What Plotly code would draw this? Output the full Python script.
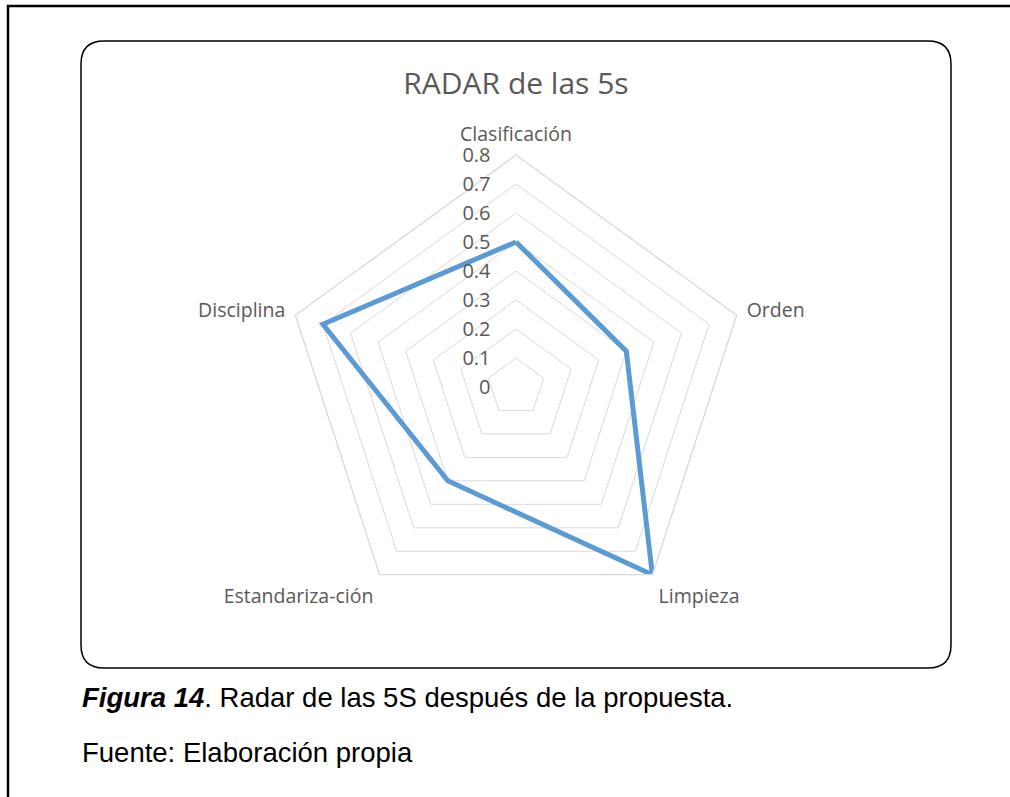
import plotly.graph_objects as go

# datos del radar
categorias = ["Clasificación", "Orden", "Limpieza", "Estandariza-ción", "Disciplina"]
valores = [0.5, 0.4, 0.8, 0.4, 0.7]

W, H = 1010, 797
GRIS = "#595959"
FUENTE = "Open Sans"


def px(x, y):
    return f"{x / W:.5f},{1 - y / H:.5f}"


def rounded_rect(x0, y0, x1, y1, r):
    # camino de rectángulo redondeado en coordenadas de papel
    return (
        f"M {px(x0 + r, y0)} L {px(x1 - r, y0)} Q {px(x1, y0)} {px(x1, y0 + r)} "
        f"L {px(x1, y1 - r)} Q {px(x1, y1)} {px(x1 - r, y1)} "
        f"L {px(x0 + r, y1)} Q {px(x0, y1)} {px(x0, y1 - r)} "
        f"L {px(x0, y0 + r)} Q {px(x0, y0)} {px(x0 + r, y0)} Z"
    )


cx, cy, R = 516, 387, 232

fig = go.Figure()
fig.add_trace(go.Scatterpolar(
    r=valores + valores[:1],
    theta=categorias + categorias[:1],
    mode="lines",
    line=dict(color="#5b9bd5", width=5),
    showlegend=False,
    hoverinfo="skip",
))

fig.update_layout(
    width=W, height=H,
    margin=dict(l=0, r=0, t=0, b=0),
    paper_bgcolor="white",
    font=dict(family=FUENTE, color=GRIS),
    title=dict(
        text="RADAR de las 5s",
        x=cx / W, y=1 - 83 / H, xanchor="center", yanchor="middle",
        font=dict(family=FUENTE, size=30, color=GRIS),
    ),
    polar=dict(
        domain=dict(x=[(cx - R) / W, (cx + R) / W], y=[(H - cy - R) / H, (H - cy + R) / H]),
        gridshape="linear",
        bgcolor="white",
        radialaxis=dict(
            range=[0, 0.8], dtick=0.1, angle=90, tickangle=90,
            side="counterclockwise", showline=False,
            ticks="outside", ticklen=18, tickcolor="rgba(0,0,0,0)",
            gridcolor="#d9d9d9", gridwidth=1.3,
            tickfont=dict(family=FUENTE, size=20, color=GRIS),
        ),
        angularaxis=dict(
            rotation=90, direction="clockwise", showgrid=False,
            linecolor="#d9d9d9", linewidth=1.3,
            ticks="outside", ticklen=6, tickcolor="rgba(0,0,0,0)",
            tickfont=dict(family=FUENTE, size=19.5, color=GRIS),
        ),
    ),
    shapes=[
        dict(type="path", xref="paper", yref="paper",
             path=rounded_rect(81, 41, 951, 668, 23),
             line=dict(color="black", width=1.5)),
        dict(type="line", xref="paper", yref="paper",
             x0=7 / W, x1=1, y0=1 - 6 / H, y1=1 - 6 / H,
             line=dict(color="black", width=2.5)),
        dict(type="line", xref="paper", yref="paper",
             x0=8 / W, x1=8 / W, y0=1 - 5 / H, y1=0,
             line=dict(color="black", width=2.5)),
    ],
    annotations=[
        dict(text="<b><i>Figura 14</i></b>. Radar de las 5S después de la propuesta.",
             xref="paper", yref="paper", x=80 / W, y=1 - 697 / H,
             xanchor="left", yanchor="middle", showarrow=False,
             font=dict(family="Liberation Sans", size=27.5, color="black")),
        dict(text="Fuente: Elaboración propia",
             xref="paper", yref="paper", x=80 / W, y=1 - 752 / H,
             xanchor="left", yanchor="middle", showarrow=False,
             font=dict(family="Liberation Sans", size=27.5, color="black")),
    ],
)

fig.write_html("out.html", config={"displayModeBar": False},
               post_script="document.body.style.margin='0';")
